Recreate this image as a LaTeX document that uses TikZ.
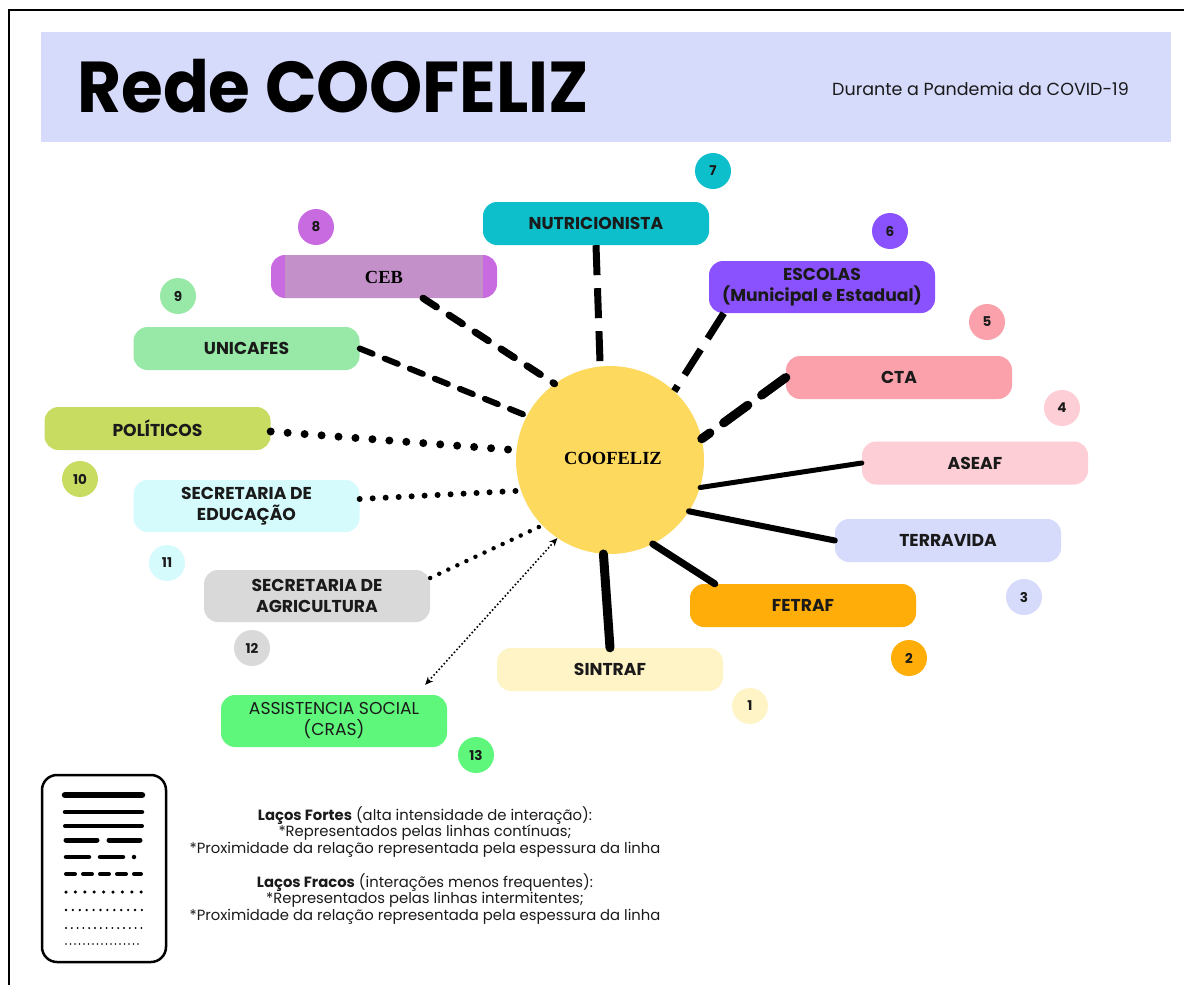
\documentclass[tikz,border=0pt]{standalone}
\usepackage{fontspec}
\setmainfont{Poppins}
\newfontfamily\serifb{Liberation Serif}
\usetikzlibrary{arrows.meta,calc}
\definecolor{banner}{HTML}{D6DAFB}
\definecolor{txt}{HTML}{1A1A1A}
\definecolor{nutc}{HTML}{0CBFCB}
\definecolor{cebend}{HTML}{C96BE0}
\definecolor{cebmid}{HTML}{C490CA}
\definecolor{escc}{HTML}{8A52FF}
\definecolor{unic}{HTML}{98E9A8}
\definecolor{ctac}{HTML}{FBA1AC}
\definecolor{polc}{HTML}{C8DC62}
\definecolor{asec}{HTML}{FDCED5}
\definecolor{educ}{HTML}{D6FBFD}
\definecolor{terc}{HTML}{D6DAFB}
\definecolor{agrc}{HTML}{D9D9D9}
\definecolor{fetc}{HTML}{FFAD08}
\definecolor{sinc}{HTML}{FFF4C6}
\definecolor{crac}{HTML}{5EF77C}
\definecolor{cooc}{HTML}{FDD95E}
\tikzset{
  box/.style={rounded corners=14pt, minimum width=226pt, minimum height=43pt, inner sep=0pt,
    align=center, text=txt, font=\bfseries\fontsize{17.2}{21}\selectfont},
  tallbox/.style={box, minimum height=52pt},
  numc/.style={circle, minimum size=36pt, inner sep=0pt, text=txt,
    font=\bfseries\fontsize{13.5}{14}\selectfont},
  lnk/.style={line width=#1, line cap=round},
  dashlong/.style={dash pattern=on 30pt off 13pt, line cap=butt},
  dashmid/.style={dash pattern=on 16pt off 15pt},
  dotted big/.style={dash pattern=on 0pt off #1},
  legline/.style={line width=#1, line cap=round},
  legtxt/.style={align=center, text=txt, font=\fontsize{14.8}{16.6}\selectfont, inner sep=0pt}
}
\begin{document}
\begin{tikzpicture}[x=1pt,y=-1pt]
\useasboundingbox (0,0) rectangle (1184,985);
\fill[white] (0,0) rectangle (1184,985);
\draw[line width=2.5pt] (9,985) -- (9,10) -- (1184,10);
\fill[banner] (41,32) rectangle (1171,142);
\node[anchor=base west, inner sep=0pt, text=black] (title) at (77,112)
  {\scalebox{0.94}[1]{\bfseries\fontsize{72}{72}\selectfont Rede COOFELIZ}};
\node[anchor=base west, inner sep=0pt, text=txt, font=\fontsize{17.5}{17.5}\selectfont] (sub) at (832,95)
  {Durante a Pandemia da COVID-19};

% central node
\node[circle, fill=cooc, minimum size=188pt, inner sep=0pt] (coof) at (610,460) {};
\node[inner sep=0pt, font=\serifb\bfseries\fontsize{18.5}{18.5}\selectfont, text=black] (cooflabel) at (613,458) {COOFELIZ};

% boxes
\node[box, fill=nutc] (nutri) at (596,223.5) {NUTRICIONISTA};
\node[box, fill=cebend] (ceb) at (384,276.5) {};
\fill[cebmid] ([xshift=14pt]ceb.south west) rectangle ([xshift=-14pt]ceb.north east);
\node[inner sep=0pt, font=\serifb\bfseries\fontsize{18.5}{18.5}\selectfont, text=black] (ceblabel) at (384,277) {CEB};
\node[tallbox, fill=escc] (esc) at (822,287) {ESCOLAS\\(Municipal e Estadual)};
\node[box, fill=unic] (uni) at (246.5,348.5) {UNICAFES};
\node[box, fill=ctac] (cta) at (899,377.5) {CTA};
\node[box, fill=polc] (pol) at (157.5,428.5) {POLÍTICOS};
\node[box, fill=asec] (ase) at (975,463) {ASEAF};
\node[tallbox, fill=educ] (edu) at (246.5,506) {SECRETARIA DE\\EDUCAÇÃO};
\node[box, fill=terc] (ter) at (948,540.5) {TERRAVIDA};
\node[tallbox, fill=agrc] (agr) at (317,596) {SECRETARIA DE\\AGRICULTURA};
\node[box, fill=fetc] (fet) at (803,605.5) {FETRAF};
\node[box, fill=sinc] (sin) at (610,669.5) {SINTRAF};
\node[tallbox, fill=crac, font=\fontsize{17.2}{21}\selectfont] (cra) at (334,721) {ASSISTENCIA SOCIAL\\(CRAS)};

% number circles
\node[numc, fill=nutc] (n7) at (713,171) {7};
\node[numc, fill=cebend] (n8) at (316,227) {8};
\node[numc, fill=escc] (n6) at (890,231) {6};
\node[numc, fill=unic] (n9) at (178,296) {9};
\node[numc, fill=ctac] (n5) at (987,322) {5};
\node[numc, fill=asec] (n4) at (1062,408) {4};
\node[numc, fill=polc] (n10) at (80,479) {10};
\node[numc, fill=educ] (n11) at (167,563) {11};
\node[numc, fill=terc] (n3) at (1024,597) {3};
\node[numc, fill=agrc] (n12) at (252,648) {12};
\node[numc, fill=fetc] (n2) at (909,658) {2};
\node[numc, fill=sinc] (n1) at (750,706) {1};
\node[numc, fill=crac] (n13) at (476,755) {13};

% connectors
\draw[line width=7pt, dashlong] (nutri.south) -- (coof.96);
\draw[lnk=7pt, dashmid] ([xshift=39pt]ceb.south) -- (coof.126);
\draw[line width=7pt, dashlong] ([xshift=15pt]esc.south west) -- (coof.47);
\draw[lnk=6pt, dash pattern=on 14pt off 13pt] (uni.east) -- (coof.152);
\draw[lnk=9pt, dash pattern=on 30pt off 17pt] (cta.west) -- (coof.13);
\draw[lnk=8pt, dotted big=17pt] ([yshift=-3pt]pol.east) -- (coof.174);
\draw[lnk=5pt] (ase.west) -- (coof.-17);
\draw[lnk=6pt, dotted big=13pt] ([yshift=7pt]edu.east) -- (coof.199);
\draw[lnk=6pt] (ter.west) -- (coof.-33);
\draw[lnk=4.5pt, dotted big=10pt] ([yshift=18pt]agr.east) -- (coof.224);
\draw[lnk=7pt] ([xshift=25pt]fet.north west) -- (coof.-63);
\draw[lnk=9pt] (sin.north) -- (coof.-94);
\draw[line width=1.6pt, dash pattern=on 1.6pt off 2.2pt, {Stealth[length=8pt,width=7pt]}-{Stealth[length=8pt,width=7pt]}]
  ([shift={(-22pt,10pt)}]cra.north east) -- (coof.236);

% legend
\draw[line width=2.5pt, rounded corners=15pt] (42,775) rectangle (166,962);
\draw[legline=6.5pt] (65,795) -- (142,795);
\draw[legline=4.5pt] (65,812) -- (142,812);
\draw[legline=4pt] (65,826) -- (142,826);
\draw[legline=5pt, dash pattern=on 31pt off 12pt] (66,840) -- (141,840);
\draw[legline=4.5pt, dash pattern=on 23pt off 11pt on 23pt off 11pt on 0pt off 20pt] (66,857) -- (141,857);
\draw[legline=4pt, dash pattern=on 9pt off 8pt] (66,874) -- (141,874);
\draw[legline=3.5pt, dash pattern=on 0pt off 9.4pt] (66,892) -- (142,892);
\draw[legline=2.6pt, dash pattern=on 0pt off 6.9pt] (66,910) -- (142,910);
\draw[legline=2.1pt, dash pattern=on 0pt off 5.8pt] (66,928) -- (142,928);
\draw[legline=1.6pt, dash pattern=on 0pt off 4.5pt] (66,944) -- (142,944);

\node[legtxt, anchor=north] (fortes) at (425,806)
  {\textbf{Laços Fortes} (alta intensidade de interação):\\*Representados pelas linhas contínuas;\\*Proximidade da relação representada pela espessura da linha};
\node[legtxt, anchor=north] (fracos) at (425,873)
  {\textbf{Laços Fracos} (interações menos frequentes):\\*Representados pelas linhas intermitentes;\\*Proximidade da relação representada pela espessura da linha};
\end{tikzpicture}
\end{document}
